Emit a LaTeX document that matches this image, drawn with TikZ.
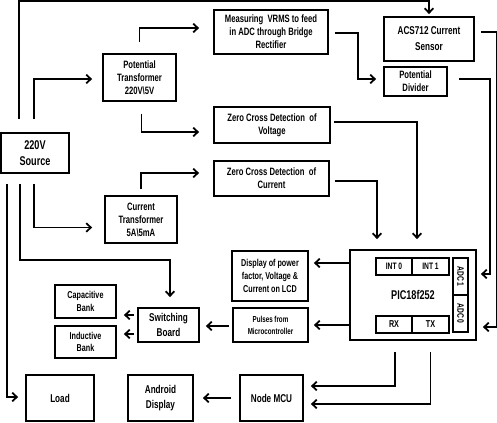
\documentclass[tikz,border=0pt]{standalone}
\usepackage{fontspec}
\setmainfont{Liberation Sans}[FakeStretch=0.72]
\usetikzlibrary{arrows.meta,calc}

\tikzset{every picture/.style={line width=1.3pt}}
\tikzset{
  blk/.style={draw, align=center, inner sep=1pt, font=\bfseries\fontsize{8}{9.8}\selectfont},
  arr/.style={-{Straight Barb[length=3.5pt,width=6.5pt]}},
}

\begin{document}
\begin{tikzpicture}[x=0.75pt,y=0.75pt,yscale=-1,xscale=1]
	\useasboundingbox (0,0) rectangle (497,422);

	%Blocks: inputs
	\node[blk, minimum width=51pt, minimum height=30pt, font=\bfseries\fontsize{9.5}{12}\selectfont] (src) at (35,153) {220V\\Source};
	\node[blk, minimum width=54.75pt, minimum height=35.25pt] (pt) at (139.5,77.5) {Potential\\Transformer\\220V\textbackslash 5V};
	\node[blk, minimum width=54pt, minimum height=35.25pt] (ct) at (141,219.5) {Current\\Transformer\\5A\textbackslash 5mA};
	\node[blk, minimum width=85.5pt, minimum height=33pt] (vrms) at (271,32) {Measuring~ VRMS to feed\\in ADC through Bridge\\Rectifier};
	\node[blk, minimum width=67.5pt, minimum height=33pt, font=\bfseries\fontsize{8.5}{12}\selectfont] (acs) at (429,39) {ACS712 Current\\Sensor};
	\node[blk, minimum width=47.25pt, minimum height=21.75pt] (pdiv) at (415.5,81.5) {Potential\\Divider};
	\node[blk, minimum width=87pt, minimum height=27pt] (zcv) at (272,125) {Zero Cross Detection~ of\\Voltage};
	\node[blk, minimum width=86.25pt, minimum height=26.25pt] (zcc) at (271.5,178.5) {Zero Cross Detection~ of\\Current};

	%Blocks: controller
	\node[blk, minimum width=94.5pt, minimum height=67.5pt, font=\bfseries\fontsize{9.5}{11}\selectfont] (pic) at (413,295) {PIC18f252};
	\node[blk, minimum width=27pt, minimum height=12.75pt, inner sep=0pt, font=\bfseries\fontsize{7}{8}\selectfont] (int0) at (394,266.5) {INT 0};
	\node[blk, minimum width=27.75pt, minimum height=12.75pt, inner sep=0pt, font=\bfseries\fontsize{7}{8}\selectfont] (int1) at (430.5,266.5) {INT 1};
	\node[blk, minimum width=27pt, minimum height=12.75pt, inner sep=0pt, font=\bfseries\fontsize{7.5}{8}\selectfont] (rx) at (394,324.5) {RX};
	\node[blk, minimum width=27.75pt, minimum height=12.75pt, inner sep=0pt, font=\bfseries\fontsize{7.5}{8}\selectfont] (tx) at (430.5,324.5) {TX};
	\node[blk, rotate=-90, minimum width=27.75pt, minimum height=11.25pt, inner sep=0pt, font=\bfseries\fontsize{7}{8}\selectfont] (adc1) at (460.5,276.5) {ADC 1};
	\node[blk, rotate=-90, minimum width=27.75pt, minimum height=11.25pt, inner sep=0pt, font=\bfseries\fontsize{7}{8}\selectfont] (adc0) at (460.5,313.5) {ADC 0};

	%Blocks: outputs
	\node[blk, minimum width=57pt, minimum height=37.5pt, font=\bfseries\fontsize{7.5}{10}\selectfont] (lcd) at (270,276) {Display of power\\factor, Voltage \&\\Current on LCD};
	\node[blk, minimum width=56.25pt, minimum height=25.5pt, font=\bfseries\fontsize{6.5}{9}\selectfont] (pulse) at (270.5,325) {Pulses from\\Microcontroller};
	\node[blk, minimum width=45.75pt, minimum height=25.5pt, font=\bfseries\fontsize{8.5}{11}\selectfont] (sw) at (168.5,325) {Switching\\Board};
	\node[blk, minimum width=45.75pt, minimum height=24.75pt, font=\bfseries\fontsize{7.5}{9.5}\selectfont] (cap) at (85.5,301.5) {Capacitive\\Bank};
	\node[blk, minimum width=45.75pt, minimum height=24pt, font=\bfseries\fontsize{7.5}{9.5}\selectfont] (ind) at (85.5,342) {Inductive\\Bank};
	\node[blk, minimum width=51pt, minimum height=34.5pt, font=\bfseries\fontsize{8.5}{11}\selectfont] (load) at (60,398) {Load};
	\node[blk, minimum width=48.75pt, minimum height=34.5pt, font=\bfseries\fontsize{8.5}{11}\selectfont] (android) at (160.5,398) {Android\\Display};
	\node[blk, minimum width=47.25pt, minimum height=34.5pt, font=\bfseries\fontsize{8.5}{11}\selectfont] (nmcu) at (271.5,398) {Node MCU};

	%Connectors from the source
	\draw[arr, shorten >=1.5pt] ($(src.north)+(-16,-13)$) |- ($(acs.north)+(0,-15)$) -- (acs.north);
	\draw[arr, shorten >=7.5pt] ($(src.north)+(-1,-13)$) |- ($(pt.west)+(0,1.5)$);
	\draw[arr, shorten >=9pt] ($(src.south)+(-1,10)$) |- ($(ct.west)+(0,8)$);
	\draw[arr, shorten >=5.25pt] ($(src.south)+(-28,10)$) |- ($(load.west)+(0,-1)$);
	\draw[arr, shorten >=7.5pt] ($(src.south)+(-15,10)$) |- ($(sw.north)+(1.5,-47)$) -- ($(sw.north)+(1.5,0)$);

	%Connectors from the transformers
	\draw[arr, shorten >=10.5pt] ($(pt.north)+(0,-11)$) |- ($(vrms.west)+(0,-4)$);
	\draw[arr, shorten >=10.5pt] ($(pt.south)+(2,12)$) |- ($(zcv.west)+(0,7)$);
	\draw[arr, shorten >=10.5pt] ($(ct.north)+(0,-6)$) |- ($(zcc.west)+(0,-5.5)$);

	%Connectors to the controller
	\draw[arr] ($(vrms.east)+(6,1)$) -- ++(23,0) |- ($(pdiv.west)+(-7,-2.5)$);
	\draw[arr] ($(acs.east)+(6,-7)$) -- ++(16,0) |- ($(pic.east)+(6,32)$);
	\draw[arr] ($(pdiv.east)+(11,-2.5)$) -- ++(31,0) |- ($(pic.east)+(4,-21)$);
	\draw[arr] ($(zcv.east)+(3,-3)$) -| ($(pic.north)+(4,-10)$);
	\draw[arr] ($(zcc.east)+(5,2.5)$) -| ($(pic.north)+(-36,-10)$);

	%Connectors from the controller
	\draw[arr] ($(pic.west)+(0,-32)$) -- ($(lcd.east |- pic.west)+(5,-32)$);
	\draw[arr] ($(pic.west)+(0,30)$) -- ($(pulse.east)+(5,0)$);
	\draw[arr] ($(rx.south)+(1,18)$) |- ($(nmcu.east)+(7,-12)$);
	\draw[arr] ($(tx.south)+(0,18)$) |- ($(nmcu.east)+(7,6)$);
	\draw[arr] ($(nmcu.west)+(-8,0)$) -- ($(android.east)+(9,0)$);
	\draw[arr] ($(pulse.west)+(-3,1)$) -- ($(sw.east)+(6,1)$);
	\draw[arr] ($(sw.west)+(-3,-10)$) -- ($(cap.east |- sw.west)+(7,-10)$);
	\draw[arr] ($(sw.west)+(-3,9)$) -- ($(ind.east |- sw.west)+(7,9)$);

\end{tikzpicture}
\end{document}
